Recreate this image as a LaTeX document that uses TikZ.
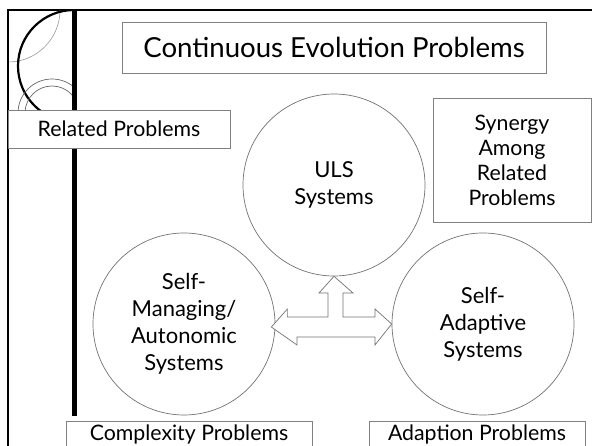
\documentclass[tikz,border=0pt]{standalone}
\usepackage{fontspec}
\setmainfont{Lato}
\begin{document}
\begin{tikzpicture}[x=1pt,y=-1pt,
  boxline/.style={draw=black!50,line width=0.8pt,fill=white},
  ring/.style={draw=black!55,line width=0.7pt,circle,fill=white,minimum size=182pt,inner sep=0pt,align=center,font=\fontsize{22}{27}\selectfont},
  lbl/.style={font=\fontsize{21.3}{25}\selectfont,align=center,inner sep=0pt}]
\useasboundingbox (0,0) rectangle (592,446);
\clip (0,0) rectangle (592,446);
% frame
\draw[line width=2pt] (8,446) -- (8,10) -- (600,10);
% decorations
\begin{scope}
\clip (9,11) rectangle (73,446);
\draw[black!40,line width=0.6pt] (8,10) circle[radius=52];
\draw[line width=2.2pt] (74,66) circle[radius=56];
\draw[black!60,line width=0.7pt] (52,113) circle[radius=34];
\draw[black!60,line width=0.7pt] (52,113) circle[radius=27];
\end{scope}
\draw[line width=4.5pt] (74.5,10) -- (74.5,416);
% title
\node[boxline,minimum width=424pt,minimum height=51pt,inner sep=0pt] (title) at (334,47.5) {};
\node[font=\fontsize{27.6}{30}\selectfont,inner sep=0pt] (titletext) at (title.center) {Continuous Evolution Problems};
% related problems
\node[boxline,minimum width=222pt,minimum height=38pt,inner sep=0pt] (rel) at (119,129) {};
\node[lbl] (reltext) at (rel.center) {Related Problems};
% synergy
\node[boxline,minimum width=158pt,minimum height=124pt,inner sep=0pt] (syn) at (512,160.5) {};
\node[lbl] (syntext) at (syn.center) {Synergy\\Among\\Related\\Problems};
% circles
\node[ring] (uls) at (334,185) {ULS\\Systems};
\node[ring] (sm) at (184,324) {Self-\\Managing/\\Autonomic\\Systems};
\node[ring] (sa) at (483,324) {Self-\\Adaptive\\Systems};
% arrow
\draw[black!55,line width=0.7pt,fill=white,line join=miter]
  (sm.east) ++(-4,3) coordinate (ltip)
  (ltip) -- ++(16,-18) -- ++(0,8) -- (328,317) -- (328,293) -- (319,293)
  -- (uls.south) -- (353,293) -- (343,293) -- (343,317) -- (375,317) -- (375,309)
  -- (sa.west) -- (375,345) -- (375,337) -- (297,337) -- (297,345) -- cycle;
% bottom boxes
\node[boxline,minimum width=246pt,minimum height=40pt,inner sep=0pt,anchor=north west] (cx) at (66,421) {};
\node[lbl,anchor=base] (cxtext) at (189,440.5) {Complexity Problems};
\node[boxline,minimum width=216pt,minimum height=40pt,inner sep=0pt,anchor=north west] (ad) at (369,421) {};
\node[lbl,anchor=base] (adtext) at (477,440.5) {Adaption Problems};
\end{tikzpicture}
\end{document}
